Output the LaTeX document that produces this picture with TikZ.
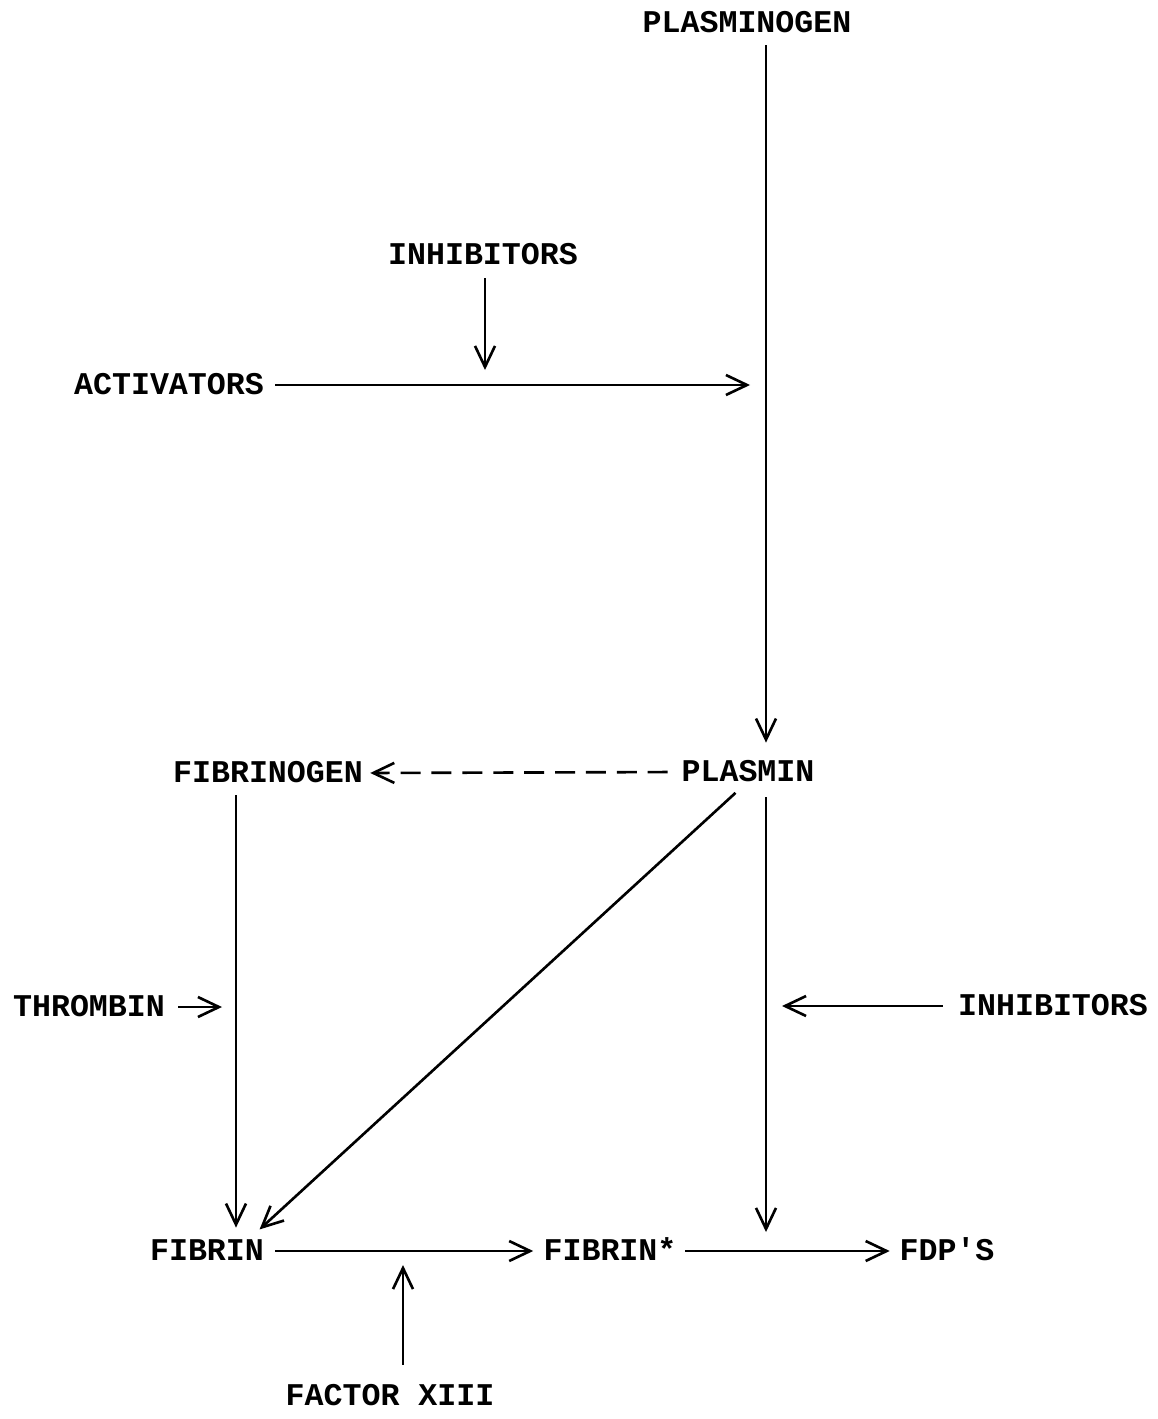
\documentclass[tikz,border=0pt]{standalone}
\usepackage{fontspec}
\setmonofont{Liberation Mono}
\usepackage{tikz}
\usetikzlibrary{arrows.meta, positioning}

\begin{document}
\begin{tikzpicture}[
            x=0.02cm, y=-0.02cm,
            lbl/.style={inner sep=0pt, text height=10.3pt, text depth=0pt, font=\ttfamily\bfseries\fontsize{18}{20}\selectfont},
            arrow/.style={-{Straight Barb[length=4.2mm, width=4mm]}, line width=1.5pt},
            dasharrow/.style={arrow, dash pattern=on 4mm off 2.18mm}
        ]
            \useasboundingbox (0,0) rectangle (1157,1419);

            \node[lbl] (plasminogen) at (747, 23) {PLASMINOGEN};
            \node[lbl] (inhtop) at (483, 255) {INHIBITORS};
            \node[lbl] (activators) at (169, 385) {ACTIVATORS};
            \node[lbl] (fibrinogen) at (268, 773) {FIBRINOGEN};
            \node[lbl] (plasmin) at (748, 772) {PLASMIN};
            \node[lbl] (thrombin) at (89, 1007) {THROMBIN};
            \node[lbl] (inhright) at (1053, 1006) {INHIBITORS};
            \node[lbl] (fibrin) at (207, 1251) {FIBRIN};
            \node[lbl] (fibrinstar) at (610, 1251) {FIBRIN*};
            \node[lbl] (fdps) at (947, 1251) {FDP'S};
            \node[lbl] (factor) at (390, 1396) {FACTOR XIII};

            % columns and meeting points
            \coordinate (colr) at (766, 0);
            \coordinate (colL) at (236, 0);
            \coordinate (actmid) at (485, 385);
            \coordinate (fdpmid) at (766, 1251);
            \coordinate (fibmid) at (403, 1251);

            \draw[arrow, shorten <=2.6mm, shorten >=4mm] (plasminogen.south -| colr) -- (plasmin.north -| colr);
            \draw[arrow, shorten <=2.8mm, shorten >=3mm] (inhtop.south -| actmid) -- (actmid);
            \draw[arrow, shorten <=2.2mm, shorten >=3.2mm] (activators.east) -- (activators.east -| colr);

            \draw[dasharrow, shorten <=2.7mm, shorten >=1.4mm] (plasmin.west) -- (fibrinogen.east);
            \draw[arrow, shorten <=2.6mm, shorten >=2.8mm] (fibrinogen.south -| colL) -- (fibrin.north -| colL);
            \draw[arrow, shorten <=3.4mm, shorten >=3.6mm] (plasmin.south) -- ([xshift=-3.6mm]fibrin.north east);
            \draw[arrow, shorten <=3.2mm, shorten >=3.8mm] (plasmin.south -| colr) -- (fdpmid);

            \draw[arrow, shorten <=2.6mm, shorten >=2.8mm] (thrombin.east) -- (thrombin.east -| colL);
            \draw[arrow, shorten <=3mm, shorten >=3.2mm] (inhright.west) -- (inhright.west -| colr);

            \draw[arrow, shorten <=2.2mm, shorten >=2mm] (fibrin.east) -- (fibrinstar.west);
            \draw[arrow, shorten <=1.7mm, shorten >=1.9mm] (fibrinstar.east) -- (fdps.west);
            \draw[arrow, shorten <=4.4mm, shorten >=2.8mm] (factor.north -| fibmid) -- (fibmid);
        \end{tikzpicture}
\end{document}
